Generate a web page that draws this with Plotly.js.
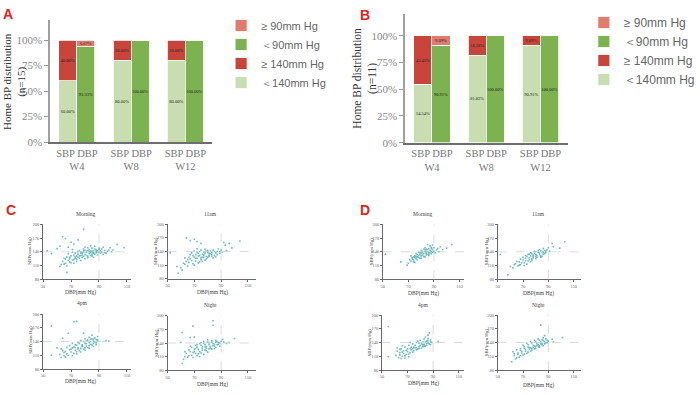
<!DOCTYPE html>
<html><head><meta charset="utf-8">
<script src="https://cdn.plot.ly/plotly-3.0.1.min.js"></script>
<style>html,body{margin:0;padding:0;background:#fff}#chart{width:700px;height:395px}</style>
</head><body><div id="chart"></div>
<script>
// ---------- Bar data (percent) ----------
const weeks = ['W4', 'W8', 'W12'];
const A_sbpLow = [60.00, 80.00, 80.00];   // <140mm Hg
const A_sbpHigh = [40.00, 20.00, 20.00];  // >=140mm Hg
const A_dbpLow = [93.33, 100.00, 100.00]; // <90mm Hg
const A_dbpHigh = [6.67, 0, 0];           // >=90mm Hg
const B_sbpLow = [54.54, 81.82, 90.91];
const B_sbpHigh = [45.45, 18.18, 9.09];
const B_dbpLow = [90.91, 100.00, 100.00];
const B_dbpHigh = [9.09, 0, 0];
const A_n = 15, B_n = 11;
const SBP_CUT = 140, DBP_CUT = 90;

// ---------- Scatter data [DBP, SBP] ----------
const C_morning = [[79,189],[64,173],[66,169],[75,166],[70,161],[72,157],[53,142],[56,136],[67,95],[103,156],[98,149],[100,144],[60,147],[62,152],[68,150],[108,149],
[81,141],[84,138],[86,143],[89,140],[77,137],[74,131],[92,146],[83,145],[80,134],[87,135],[79,142],[85,148],[90,139],[82,130],[76,126],[71,122],[69,118],[65,113],[67,109],[72,115],[74,119],[78,128],[84,132],[88,144],[91,137],[94,143],[96,141],[93,134],[86,128],[80,125],[77,121],[73,126],[70,131],[68,136],[75,140],[79,146],[82,149],[87,152],[90,148],[85,141],[83,136],[81,139],[78,133],[76,143],[73,137],[71,145],[66,124],[64,119],[63,112],[69,128],[72,133],[88,138],[91,142],[95,137],[97,144],[99,140],[86,137],[84,142],[80,144],[77,140],[82,127],[85,131],[89,133],[92,139],[74,124],[70,116],[66,115],[62,108],[68,121],[75,135],[79,130],[83,140],[87,146],[89,143],[85,135],[81,132],[78,137],[76,131],[73,129],[71,139],[80,150],[84,153],[88,141],[86,139],[82,143],[90,145],[93,150],[94,138],[79,139],[77,132],[75,128],[72,123],[69,125],[67,129],[65,126]];
const C_11am = [[64,170],[67,164],[72,162],[75,158],[52,137],[104,163],[96,158],[93,154],[57,107],[58,92],[61,99],[60,104],[92,160],[70,167],
[74,131],[78,135],[72,125],[76,128],[80,138],[83,134],[85,140],[79,141],[73,136],[70,128],[68,120],[66,116],[63,112],[65,108],[69,113],[71,119],[75,122],[77,127],[81,129],[84,126],[87,133],[89,140],[90,143],[86,137],[82,141],[78,145],[74,140],[71,133],[67,124],[64,118],[62,114],[70,110],[73,115],[76,118],[79,124],[81,132],[83,138],[88,146],[91,139],[94,142],[98,148],[85,131],[80,127],[77,139],[75,143],[72,138],[69,131],[66,127],[68,137],[73,130],[76,134],[79,129],[82,135],[84,143],[87,140],[89,136],[86,128],[78,121],[74,117],[71,125],[65,122],[63,126],[67,133],[70,141],[72,146],[80,142],[83,130],[77,132],[75,126],[78,139],[81,136]];
const C_4pm = [[56,174],[56,110],[72,183],[74,184],[79,158],[85,154],[95,142],[68,158],[64,147],[89,151],[60,126],[97,141],
[75,127],[78,133],[80,136],[83,138],[86,141],[88,144],[84,134],[81,130],[77,125],[73,121],[70,117],[67,113],[65,109],[63,105],[66,118],[69,122],[72,128],[74,132],[76,136],[79,140],[82,143],[85,146],[87,139],[89,143],[86,136],[83,131],[80,126],[76,120],[72,114],[68,110],[71,126],[73,133],[75,138],[78,129],[81,141],[84,145],[87,148],[88,137],[85,132],[82,127],[79,123],[74,118],[70,123],[67,127],[64,120],[62,112],[66,106],[69,131],[71,136],[77,142],[80,146],[83,149],[86,145],[84,140],[81,135],[78,131],[75,124],[73,127],[77,117],[80,121],[83,125],[86,129],[89,140],[88,133],[74,113],[71,109],[65,116],[63,124]];
const C_night = [[84,189],[84,179],[69,177],[61,163],[67,152],[70,153],[100,150],[60,141],[61,95],[63,110],[96,141],[91,148],
[76,128],[79,132],[81,136],[84,139],[86,142],[88,137],[85,133],[82,129],[78,125],[74,121],[71,117],[68,113],[65,109],[64,117],[67,121],[70,126],[72,131],[75,135],[77,139],[80,142],[83,145],[87,143],[89,140],[90,144],[86,130],[83,127],[79,123],[75,118],[72,112],[69,108],[73,126],[76,132],[78,136],[81,140],[84,134],[87,136],[89,133],[85,128],[80,120],[77,115],[74,110],[70,121],[66,125],[63,121],[62,104],[66,112],[68,130],[71,135],[74,139],[77,143],[80,147],[82,132],[79,128],[76,124],[73,116],[71,128],[75,141],[78,131],[81,127],[85,137],[88,141],[83,142],[86,146],[92,142],[94,139],[69,119],[67,133],[72,137]];
const D_morning = [[52,135],[104,156],[100,148],[64,118],[69,111],[97,145],[95,151],
[82,136],[85,140],[87,143],[84,133],[80,131],[78,128],[76,125],[74,122],[72,119],[70,115],[73,127],[75,131],[77,134],[79,138],[81,141],[83,144],[86,147],[88,150],[89,145],[90,141],[92,144],[91,138],[88,136],[86,132],[83,129],[80,126],[77,122],[75,117],[71,123],[74,129],[76,136],[78,139],[81,133],[84,137],[86,139],[88,141],[85,145],[83,149],[87,153],[85,156],[89,155],[80,143],[82,146],[79,134],[77,129],[73,124],[84,141],[86,135],[89,139],[93,147],[94,140],[82,130],[78,132],[75,127],[72,131],[87,138],[85,134],[81,138],[83,140],[88,147],[90,149],[84,146],[80,137],[76,130],[79,126],[74,118]];
const D_11am = [[52,134],[103,162],[93,158],[94,151],[99,148],[58,90],[60,108],[62,105],
[75,127],[78,130],[80,134],[83,137],[85,140],[87,143],[84,131],[81,128],[77,124],[74,120],[71,116],[68,112],[66,109],[64,114],[67,118],[70,122],[72,126],[76,131],[79,136],[82,139],[86,135],[88,138],[89,144],[90,149],[86,147],[84,142],[80,140],[77,136],[73,130],[70,128],[68,124],[65,119],[63,112],[69,116],[72,120],[75,123],[78,127],[81,132],[83,134],[85,130],[87,136],[74,134],[76,138],[79,141],[82,143],[88,141],[91,141],[76,118],[73,113],[71,110],[67,111],[80,125],[84,128],[78,133],[75,135],[72,132],[86,139],[83,145],[80,130],[77,121]];
const D_4pm = [[55,175],[55,109],[94,142],[87,161],[86,156],[84,152],[65,105],
[74,126],[77,129],[80,133],[83,136],[86,139],[88,142],[85,134],[82,131],[78,126],[75,122],[72,118],[69,114],[66,110],[63,107],[61,112],[64,118],[67,122],[70,126],[73,130],[76,134],[79,138],[82,141],[85,143],[88,146],[89,140],[87,137],[84,132],[81,128],[77,124],[74,119],[71,115],[68,111],[62,121],[65,126],[68,130],[71,134],[74,137],[77,140],[80,145],[83,148],[86,144],[88,135],[85,138],[82,135],[79,131],[76,128],[73,124],[70,120],[67,116],[64,113],[62,128],[66,133],[72,140],[78,143],[81,137],[84,141],[86,149],[83,132],[79,127],[75,130],[72,127],[69,123],[66,119],[68,106],[71,109],[64,125]];
const D_night = [[84,178],[101,151],[61,98],[87,155],[94,141],[93,147],
[76,128],[79,132],[82,135],[85,138],[87,142],[89,145],[86,133],[83,130],[80,127],[77,123],[74,119],[71,115],[68,111],[65,107],[63,112],[66,117],[69,121],[72,125],[75,129],[78,134],[81,138],[84,141],[86,144],[88,148],[90,143],[88,139],[85,135],[82,131],[79,126],[76,121],[73,116],[70,112],[67,108],[62,120],[65,124],[68,127],[71,131],[74,135],[77,139],[80,142],[83,145],[86,150],[84,137],[81,134],[78,129],[75,125],[72,121],[69,117],[64,104],[66,114],[70,134],[73,138],[76,142],[79,145],[82,148],[87,137],[89,140],[80,131],[77,127],[74,130],[71,127],[68,123],[63,116],[85,146],[83,133]];
const yTicks = [80, 110, 140, 170, 200];
const xTicks = [50, 70, 90, 110];
const pctTicks = [0, 25, 50, 75, 100];

// ---------- helpers ----------
const W = 700, H = 395;
const dx = (a, b) => [a / W, b / W];
const dy = (top, bottom) => [1 - bottom / H, 1 - top / H];
const serif = 'Liberation Serif, Times New Roman, serif';
const sans = 'Liberation Sans, Arial, sans-serif';
const COL = {sbpLow: '#c9deb0', sbpHigh: '#c9443a', dbpLow: '#7cb24f', dbpHigh: '#e07b6e'};
const LBL = {sbpLow: '＜140mm Hg', sbpHigh: '≥ 140mm Hg', dbpLow: '＜90mm Hg', dbpHigh: '≥ 90mm Hg'};

const data = [];
const groupIdx = weeks.map((w, i) => i);
function barTrace(vals, key, side, ax, leg) {
  return {
    type: 'bar', x: groupIdx.map(i => i + side / 6), y: vals, width: 1 / 3,
    name: LBL[key], marker: {color: COL[key], line: {color: '#ffffff', width: 0.8}},
    text: vals.map(v => v > 0 ? v.toFixed(2) + '%' : ''), textposition: 'inside',
    insidetextanchor: 'middle', textangle: 0, constraintext: 'none',
    textfont: {family: serif, size: 4.5, color: '#222'},
    xaxis: 'x' + ax, yaxis: 'y' + ax, legend: leg, hoverinfo: 'skip'
  };
}
data.push(barTrace(A_sbpLow, 'sbpLow', -1, '', 'legend'));
data.push(barTrace(A_sbpHigh, 'sbpHigh', -1, '', 'legend'));
data.push(barTrace(A_dbpLow, 'dbpLow', 1, '', 'legend'));
data.push(barTrace(A_dbpHigh, 'dbpHigh', 1, '', 'legend'));
data.push(barTrace(B_sbpLow, 'sbpLow', -1, '2', 'legend2'));
data.push(barTrace(B_sbpHigh, 'sbpHigh', -1, '2', 'legend2'));
data.push(barTrace(B_dbpLow, 'dbpLow', 1, '2', 'legend2'));
data.push(barTrace(B_dbpHigh, 'dbpHigh', 1, '2', 'legend2'));

const scatters = [
  {pts: C_morning, title: 'Morning', x: [45, 137], xr: [50, 113], y: [224.3, 279.3], tx: 90, ty: 214, lx: 84, ly: 292, yx: 31, yy: 251},
  {pts: C_11am, title: '11am', x: [175, 267], xr: [50, 115.7], y: [224.3, 278.7], tx: 220, ty: 214, lx: 222, ly: 292, yx: 163, yy: 251},
  {pts: C_4pm, title: '4pm', x: [45, 137], xr: [50, 113], y: [314, 369], tx: 86, ty: 303, lx: 84, ly: 381, yx: 31, yy: 340},
  {pts: C_night, title: 'Night', x: [175, 267], xr: [50, 115.7], y: [315.7, 370.3], tx: 220, ty: 305, lx: 222, ly: 384, yx: 163, yy: 343},
  {pts: D_morning, title: 'Morning', x: [400, 485], xr: [50, 113.75], y: [224.3, 279.3], tx: 442, ty: 214, lx: 442, ly: 293, yx: 389, yy: 251},
  {pts: D_11am, title: '11am', x: [520, 607], xr: [50, 115.8], y: [224.3, 279.3], tx: 563, ty: 214, lx: 563, ly: 293, yx: 509, yy: 251},
  {pts: D_4pm, title: '4pm', x: [399, 485], xr: [50, 114.3], y: [315, 370], tx: 442, ty: 305, lx: 442, ly: 383, yx: 386, yy: 342},
  {pts: D_night, title: 'Night', x: [520, 607], xr: [50, 115.8], y: [315, 370], tx: 563, ty: 305, lx: 563, ly: 385, yx: 508, yy: 342}
];

const layout = {
  width: W, height: H, margin: {l: 0, r: 0, t: 0, b: 0},
  paper_bgcolor: '#fff', plot_bgcolor: 'rgba(0,0,0,0)',
  barmode: 'stack', bargap: 0, showlegend: true,
  font: {family: serif, color: '#555'},
  annotations: [], shapes: []
};

function barAxes(suffix, xd, yd) {
  layout['xaxis' + suffix] = {
    domain: xd, range: [-0.5, 2.5], tickmode: 'array', tickvals: groupIdx,
    ticktext: weeks.map(w => 'SBP DBP<br>' + w), ticks: '', showline: true,
    linecolor: '#6e6e6e', linewidth: 2, showgrid: false, zeroline: false,
    tickfont: {family: serif, size: 10.5, color: '#777'}, fixedrange: true,
    anchor: 'y' + suffix
  };
  layout['yaxis' + suffix] = {
    domain: yd, range: [0, 120], tickmode: 'array', tickvals: pctTicks,
    ticktext: pctTicks.map(v => v + '%'), ticks: 'outside', ticklen: 4,
    tickcolor: '#999', showline: true, linecolor: '#a0a0a0', linewidth: 1.5,
    showgrid: false, zeroline: false, tickfont: {family: serif, size: 11, color: '#888'},
    anchor: 'x' + suffix
  };
}
barAxes('', dx(52, 222), dy(19.6, 142));
barAxes('2', dx(423, 593), dy(14.3, 142.7));

function ann(text, px, py, font, angle) {
  layout.annotations.push({text: text, xref: 'paper', yref: 'paper', x: px / W, y: 1 - py / H,
    xanchor: 'center', yanchor: 'middle', textangle: angle || 0, showarrow: false, font: font});
}

scatters.forEach((s, i) => {
  const n = i + 3;
  data.push({
    type: 'scatter', mode: 'markers', x: s.pts.map(p => p[0]), y: s.pts.map(p => p[1]),
    marker: {color: '#4aa9b0', size: 1.6, symbol: 'square', opacity: 0.8},
    xaxis: 'x' + n, yaxis: 'y' + n, showlegend: false, hoverinfo: 'skip'
  });
  layout['xaxis' + n] = {
    domain: dx(s.x[0], s.x[1]), range: s.xr, tickmode: 'array', tickvals: xTicks,
    ticks: 'outside', ticklen: 2, tickwidth: 0.8, tickcolor: '#444', showline: true,
    linecolor: '#444', linewidth: 0.8, showgrid: false, zeroline: false,
    tickfont: {family: serif, size: 4.5, color: '#666'}, anchor: 'y' + n
  };
  layout['yaxis' + n] = {
    domain: dy(s.y[0], s.y[1]), range: [80, 200], tickmode: 'array', tickvals: yTicks,
    ticks: 'outside', ticklen: 2, tickwidth: 0.8, tickcolor: '#444', showline: true,
    linecolor: '#444', linewidth: 0.8, showgrid: false, zeroline: false,
    tickfont: {family: serif, size: 4.5, color: '#666'}, anchor: 'x' + n
  };
  layout.shapes.push({type: 'line', xref: 'x' + n + ' domain', x0: 0, x1: 1, yref: 'y' + n, y0: SBP_CUT, y1: SBP_CUT,
    line: {color: '#d2d2d2', width: 0.8, dash: 'dash'}});
  layout.shapes.push({type: 'line', yref: 'y' + n + ' domain', y0: 0, y1: 1, xref: 'x' + n, x0: DBP_CUT, x1: DBP_CUT,
    line: {color: '#d2d2d2', width: 0.8, dash: 'dash'}});
  ann(s.title, s.tx, s.ty, {family: serif, size: 5.5, color: '#444'});
  ann('DBP(mm Hg)', s.lx, s.ly, {family: serif, size: 5.5, color: '#444'});
  ann('SBP(mm Hg)', s.yx, s.yy, {family: serif, size: 5, color: '#444'}, -90);
});

// y-axis titles for bar panels
ann('Home BP distribution<br>(n=' + A_n + ')', 14.5, 81, {family: serif, size: 11, color: '#333'}, -90);
ann('Home BP distribution<br>(n=' + B_n + ')', 381, 78, {family: serif, size: 11.5, color: '#333'}, -90);
// panel letters
[['A', 8, 14], ['B', 381, 15], ['C', 12, 210], ['D', 381, 210]].forEach(l => {
  ann('<b>' + l[0] + '</b>', l[1], l[2], {family: sans, size: 14, color: '#e8201c'});
});

layout.legend = {x: 231 / W, y: 1 - 11 / H, xanchor: 'left', yanchor: 'top', traceorder: 'reversed',
  font: {family: sans, size: 11, color: '#666'}, bgcolor: 'rgba(0,0,0,0)', tracegroupgap: 0};
layout.legend2 = {x: 610 / W, y: 1 - 8 / H, xanchor: 'left', yanchor: 'top', traceorder: 'reversed',
  font: {family: sans, size: 12, color: '#666'}, bgcolor: 'rgba(0,0,0,0)', tracegroupgap: 0};

Plotly.newPlot('chart', data, layout, {staticPlot: true, displayModeBar: false});
</script></body></html>
